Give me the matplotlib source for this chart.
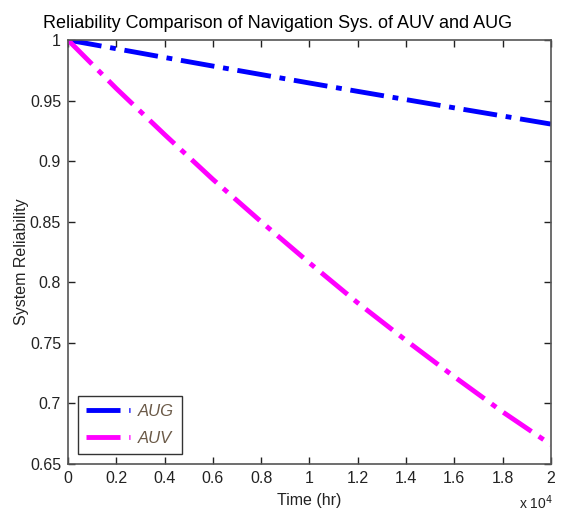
import matplotlib
matplotlib.use("Agg")
import matplotlib.pyplot as plt

# time in units of 1e4 hr
time = [0.0, 0.2, 0.4, 0.6, 0.8, 1.0, 1.2, 1.4, 1.6, 1.8, 2.0]
aug = [1.0, 0.9928, 0.9856, 0.9785, 0.9715, 0.9645, 0.9576, 0.9508, 0.9440, 0.9373, 0.9306]
auv = [1.0, 0.960, 0.922, 0.885, 0.850, 0.816, 0.783, 0.752, 0.722, 0.693, 0.666]

x_ticks = [0, 0.2, 0.4, 0.6, 0.8, 1, 1.2, 1.4, 1.6, 1.8, 2]
y_ticks = [0.65, 0.7, 0.75, 0.8, 0.85, 0.9, 0.95, 1]

plt.rcParams["font.family"] = ["Liberation Sans", "DejaVu Sans"]

fig = plt.figure(figsize=(5.78, 5.13), dpi=100, facecolor="white")
ax = fig.add_axes([0.1176, 0.0955, 0.8356, 0.8265])

dash = (0, (7, 1.8, 1.2, 1.8))
ax.plot(time, aug, color="#0000ff", linewidth=3.5, linestyle=dash, label="AUG")
ax.plot(time, auv, color="#ff00ff", linewidth=3.5, linestyle=dash, label="AUV")

ax.set_xlim(0, 2)
ax.set_ylim(0.65, 1)
ax.set_xticks(x_ticks)
ax.set_xticklabels(["0", "0.2", "0.4", "0.6", "0.8", "1", "1.2", "1.4", "1.6", "1.8", "2"])
ax.set_yticks(y_ticks)
ax.set_yticklabels(["0.65", "0.7", "0.75", "0.8", "0.85", "0.9", "0.95", "1"])
ax.tick_params(direction="in", length=5, width=1, top=True, right=True,
               labelsize=11.5, colors="#222222", pad=5)
for s in ax.spines.values():
    s.set_color("#555555")
    s.set_linewidth(1.2)

ax.set_xlabel("Time (hr)", fontsize=11.5, labelpad=5, color="#222222")
ax.set_ylabel("System Reliability", fontsize=11.5, color="#222222")
ax.yaxis.set_label_coords(-0.081, 0.476)
fig.text(0.481, 0.955, "Reliability Comparison of Navigation Sys. of AUV and AUG",
         fontsize=13, ha="center", va="center")
fig.text(0.927, 0.008, r"x 10$^4$", fontsize=10, color="#222222", ha="center")

leg = ax.legend(loc="lower left", fontsize=12, frameon=True, fancybox=False,
                edgecolor="black", borderaxespad=0.6, handlelength=2.6,
                handletextpad=0.5, borderpad=0.5, labelspacing=0.7)
leg.get_frame().set_linewidth(1.0)
for t in leg.get_texts():
    t.set_style("italic")
    t.set_color("#6b5a48")

fig.savefig("out.png", dpi=100, facecolor="white")
